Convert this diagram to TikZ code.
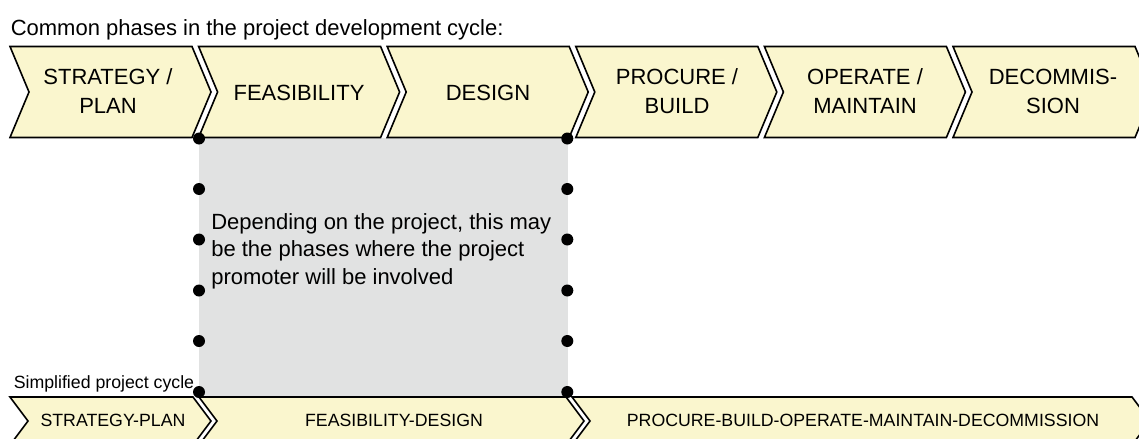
\documentclass[tikz,border=0pt]{standalone}
\usepackage{fontspec}
\setmainfont{Liberation Sans}
\usepackage{tikz}

\definecolor{chevfill}{RGB}{250,246,206}
\definecolor{boxgray}{RGB}{225,226,226}

\begin{document}
\begin{tikzpicture}[x=0.75pt,y=0.75pt,yscale=-1,xscale=1,
  chev/.style={draw=black,fill=chevfill,line width=1.2pt,line join=miter},
  bigtext/.style={inner sep=0pt,font=\fontsize{16.5}{21.75}\selectfont},
  phase/.style={bigtext,align=center},
  smalltext/.style={inner sep=0pt,font=\fontsize{13.3}{16}\selectfont},
  dot/.style={fill=black}]
\useasboundingbox (0,0) rectangle (1139,439);

%Shape: Rectangle [id:involved]
\fill [boxgray] (199,138) rectangle (567.5,397) ;

%Shape: Chevron [id:strategy]
\draw [chev] (10,46.5) -- (192,46.5) -- (211,92) -- (192,137.5) -- (10,137.5) -- (29,92) -- cycle ;
%Shape: Chevron [id:feasibility]
\draw [chev] (198.6,46.5) -- (380.6,46.5) -- (399.6,92) -- (380.6,137.5) -- (198.6,137.5) -- (217.6,92) -- cycle ;
%Shape: Chevron [id:design]
\draw [chev] (387.2,46.5) -- (569.2,46.5) -- (588.2,92) -- (569.2,137.5) -- (387.2,137.5) -- (406.2,92) -- cycle ;
%Shape: Chevron [id:procure]
\draw [chev] (575.8,46.5) -- (757.8,46.5) -- (776.8,92) -- (757.8,137.5) -- (575.8,137.5) -- (594.8,92) -- cycle ;
%Shape: Chevron [id:operate]
\draw [chev] (764.4,46.5) -- (946.4,46.5) -- (965.4,92) -- (946.4,137.5) -- (764.4,137.5) -- (783.4,92) -- cycle ;
%Shape: Chevron [id:decommission]
\draw [chev] (953,46.5) -- (1135,46.5) -- (1154,92) -- (1135,137.5) -- (953,137.5) -- (972,92) -- cycle ;

%Shape: Chevron [id:simple-strategy]
\draw [chev] (10,397) -- (193,397) -- (211,421) -- (193,445) -- (10,445) -- (28,421) -- cycle ;
%Shape: Chevron [id:simple-feasibility]
\draw [chev] (199,397) -- (566,397) -- (584,421) -- (566,445) -- (199,445) -- (217,421) -- cycle ;
%Shape: Chevron [id:simple-procure]
\draw [chev] (572,397) -- (1132,397) -- (1150,421) -- (1132,445) -- (572,445) -- (590,421) -- cycle ;

%Dots along the box
\foreach \yy in {138.5,189,239.5,290.5,341,392}{
  \fill [dot] (199,\yy) circle (6) ;
  \fill [dot] (567.3,\yy) circle (6) ;
}

% Text Node
\draw (10.5,36) node [bigtext,anchor=base west] (title) {Common phases in the project development cycle:};
% Text Node
\draw (108,91) node [phase] (strat) {STRATEGY /\\PLAN};
% Text Node
\draw (299,92.5) node [phase] (feas) {FEASIBILITY};
% Text Node
\draw (488,92.5) node [phase] (design) {DESIGN};
% Text Node
\draw (677,91) node [phase] (procure) {PROCURE /\\BUILD};
% Text Node
\draw (865,91) node [phase] (operate) {OPERATE /\\MAINTAIN};
% Text Node
\draw (1053,91) node [phase] (decomm) {DECOMMIS-\\SION};
% Text Node
\draw (211,213.3) node [bigtext,anchor=north west,align=left,font=\fontsize{16.5}{20.6}\selectfont] (note) {Depending on the project, this may\\be the phases where the project\\promoter will be involved};
% Text Node
\draw (13.5,388) node [smalltext,anchor=base west] (simple) {Simplified project cycle};
% Text Node
\draw (113,420) node [smalltext] (sstrat) {STRATEGY-PLAN};
% Text Node
\draw (394,420) node [smalltext] (sfeas) {FEASIBILITY-DESIGN};
% Text Node
\draw (863,420) node [smalltext] (sproc) {PROCURE-BUILD-OPERATE-MAINTAIN-DECOMMISSION};

\end{tikzpicture}
\end{document}
